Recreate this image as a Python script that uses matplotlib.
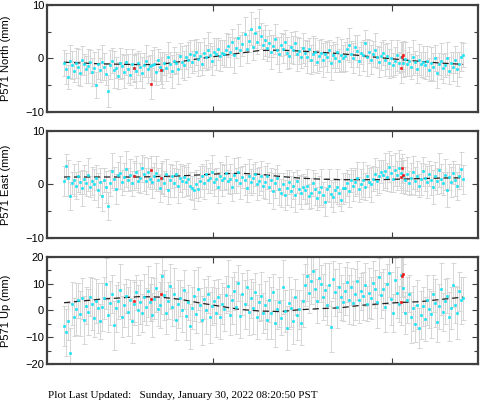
import numpy as np
from matplotlib import pyplot as plt
from matplotlib.ticker import MultipleLocator, NullFormatter

# sample epochs (decimal year)
t_start = 2019.168
t_end = 2021.397
n_pts = 200

north = [
    -0.8, -1.9, -3.5, -0.5, -1.2, -2.4, -0.9, -1.6, -2.8, -0.3, -1.1, -2.0, -1.4, -0.6, -2.6, -1.8, -5.0, -1.0, -2.2, -0.7,
    -1.5, -2.9, -6.0, -1.2, -0.4, -2.1, -1.7, -3.2, -0.9, -1.4, -2.5, -0.6, -1.9, -3.0, -1.1, -1.8, -2.3, -0.8, -1.6, -2.7,
    -1.2, -0.5, -2.0, -1.4, -1.3, -1.0, -2.6, -0.3, -1.5, -2.2, -0.9, -1.7, 0.2, -1.1, -2.4, -0.4, -0.8, -1.9, 0.5, -0.6,
    -1.3, 0.3, -0.2, 0.9, -0.7, 0.6, 1.2, -0.1, 0.4, -1.0, 1.0, 0.2, 1.5, 0.7, -0.4, 1.3, 0.8, 1.8, 0.5, 1.1,
    0.9, 1.6, 2.4, 1.2, 3.1, 0.6, 2.0, 3.8, 1.5, 2.7, 4.5, 1.8, 3.3, 5.6, 2.2, 4.8, 3.0, 5.9, 4.2, 2.6,
    3.4, 1.9, 2.8, 1.2, 2.3, 3.6, 1.5, 0.8, 2.6, 1.8, 3.0, 1.1, 0.4, 2.1, 1.6, 2.9, 0.9, 1.4, 0.2, 1.9,
    1.0, 0.3, 1.7, -0.2, 0.8, 1.3, -0.6, 0.5, 1.1, -0.3, 0.9, 0.2, 1.5, -0.8, 0.6, 0.1, 1.2, -0.4, 0.7, 0.0,
    0.4, 1.8, 2.5, 0.9, 0.1, 2.1, 1.4, -0.5, 1.0, 0.6, 2.8, 0.2, 1.3, -0.2, 0.8, 1.6, 0.3, -0.7, 0.5, 1.1,
    -0.3, 0.4, -0.9, 0.1, -1.2, -0.4, 0.6, -0.8, 0.3, -0.9, -0.1, -1.0, -0.5, -1.5, 0.2, -0.7, -1.9, -0.2, -1.1, -0.6,
    -1.3, -0.4, -2.1, -0.9, -1.6, 0.1, -2.7, -1.0, -0.5, -1.8, -1.2, 0.0, -2.3, -0.8, -1.5, -0.2, -1.9, -1.1, 0.3, 0.6,
]
east = [
    0.6, 3.4, 1.2, -2.1, 0.3, 0.9, -0.2, 1.5, 0.4, -0.6, 1.0, 0.2, 1.8, -0.4, 0.7, 0.0, 1.3, -1.0, 0.5, -2.1,
    0.8, -0.5, -4.0, 0.3, 2.6, 1.1, -0.8, 1.7, 2.2, 0.4, 1.4, 2.9, 0.9, 1.8, 0.2, 1.5, 2.4, 0.7, 1.2, 3.0,
    1.9, 0.6, 2.3, 1.1, 0.4, 1.6, 2.1, 0.9, -0.6, 1.3, 0.2, 2.0, -1.1, 0.8, 1.5, 0.3, 1.9, -0.3, 1.2, 0.6,
    1.4, 0.5, 1.0, -0.2, -0.7, -1.1, 0.1, -0.9, 0.6, 1.5, 0.3, 1.9, 0.8, 1.2, 2.3, 0.4, 1.1, -0.5, 1.6, 0.9,
    1.3, 2.2, 0.6, 1.0, -0.4, 1.7, 0.8, 2.4, 0.2, 1.4, 0.9, -0.7, 1.6, 0.5, 1.2, 2.0, 0.1, 0.7, 1.5, -0.3,
    0.4, 1.6, -0.5, 0.9, -1.2, 0.2, 1.3, -0.8, -1.6, 0.1, -1.9, -0.6, 0.5, -1.3, -0.2, -2.0, 0.6, -0.9, -1.5, -0.4,
    -1.1, -0.3, -2.2, -1.6, 0.3, -0.8, -2.6, -1.4, -0.5, -1.9, -3.2, -0.9, -0.2, -1.7, -2.4, -1.0, -0.4, -1.5, -2.9, -0.7,
    -0.6, 0.3, -1.2, 0.8, -0.2, 0.5, 1.2, -0.9, 0.1, 0.9, -0.4, 1.6, 0.4, 0.0, 1.1, 2.0, 0.7, 1.5, 2.4, 1.8,
    2.6, 1.4, 3.3, 2.1, 1.0, 2.8, 1.7, 3.1, 2.2, 1.5, 0.8, 1.9, 0.3, 1.2, 2.3, 0.6, 1.6, -0.2, 1.0, 2.5,
    1.3, 0.4, 2.0, 0.9, -0.5, 1.6, 0.7, 2.7, 1.1, 0.2, 1.8, -1.0, 1.4, 0.5, 2.2, 0.8, -0.3, 1.5, 2.9, 1.0,
]
up = [
    -5.8, -8.2, -4.0, -16.0, 2.6, -2.5, 0.5, 3.8, -1.2, 4.6, -3.6, 1.8, -0.6, 5.2, 2.4, -2.8, 3.5, 0.9, -4.1, 1.4,
    4.8, 10.0, -1.5, 2.9, 6.3, -5.6, 0.8, 3.6, 7.6, -2.3, 1.9, 5.5, -0.4, 4.1, -3.8, 2.6, 6.8, 0.2, 3.2, -1.0,
    5.0, 1.4, 7.2, 3.0, -1.7, 4.4, 8.5, 0.6, 2.2, 12.8, 5.8, -0.9, 3.6, 9.0, 1.2, 6.1, -3.4, 2.5, 4.8, 0.3,
    7.8, -2.2, 3.1, -5.9, 1.0, 5.6, -1.4, 8.2, 2.0, -3.7, 4.3, 0.0, 6.0, -2.6, 1.7, 3.5, -0.8, 5.1, -2.4, 2.6,
    0.7, 5.9, 9.2, -1.6, 3.8, 7.4, 1.2, 10.4, -2.1, 6.2, 2.3, 8.7, -0.5, 4.5, 1.0, 7.0, -2.4, 3.0, 5.4, -0.9,
    2.1, -3.5, 4.0, -1.0, 6.8, -4.8, 0.6, 3.3, -2.7, 8.8, -0.2, -6.7, 2.8, 1.0, -3.8, 5.1, -1.6, 0.4, -4.5, 3.6,
    9.5, 13.0, 6.4, 11.2, 14.6, 8.0, 3.5, 12.1, 10.0, 5.2, 7.8, 2.0, 9.6, -6.0, 11.6, 6.8, 1.3, 8.6, 5.0, 3.2,
    7.4, 10.8, 4.1, 8.9, 2.8, 6.0, 11.1, 3.9, 7.2, 5.3, 9.7, 2.6, 6.5, 4.6, 10.2, 8.0, 3.1, 12.6, 5.7, 7.9,
    1.2, 9.8, 14.0, 4.4, -0.8, 11.4, 6.7, 2.5, 13.1, 8.4, -1.0, 3.9, 6.3, -2.6, 0.8, -4.9, 2.2, -6.7, -1.8, 1.5,
    -3.2, 4.0, 0.6, -1.4, 6.2, 2.8, -4.2, 1.6, 8.0, -0.6, 3.4, 5.6, -2.3, 0.9, 9.4, 2.2, -1.0, 7.1, 3.8, 4.6,
]

sig_n = [
    2.4, 2.9, 2.2, 3.1, 2.6, 2.0, 2.8, 3.4, 2.3, 2.7, 1.9, 2.5, 3.2, 2.1, 2.6, 3.0, 2.4, 2.8, 2.2, 3.3,
    2.6, 2.1, 3.0, 2.7, 2.3, 3.5, 2.0, 2.5, 2.9, 2.2, 3.1, 2.4, 2.7, 2.0, 2.8, 2.5, 3.3, 2.2, 2.6, 2.9,
    2.3, 3.0, 2.5, 2.1, 2.8, 3.2, 2.4, 2.0, 2.7, 3.4, 2.2, 2.6, 2.9, 2.3, 3.1, 2.5, 2.0, 2.8, 2.4, 3.0,
    2.7, 2.2, 3.3, 2.5, 2.1, 2.9, 2.4, 3.1, 2.6, 2.0, 2.8, 2.3, 3.5, 2.2, 2.7, 2.5, 3.0, 2.1, 2.9, 2.4,
    2.5, 3.1, 2.2, 2.8, 2.4, 3.3, 2.0, 2.7, 2.9, 2.3, 3.2, 2.6, 2.1, 3.0, 2.5, 2.8, 2.2, 3.4, 2.4, 2.7,
    2.9, 2.3, 2.6, 3.1, 2.0, 2.8, 2.5, 3.3, 2.2, 2.7, 2.4, 3.0, 2.1, 2.9, 2.6, 2.3, 3.2, 2.5, 2.0, 2.8,
    2.4, 3.0, 2.2, 2.7, 3.4, 2.5, 2.1, 2.9, 2.6, 3.1, 2.3, 2.8, 2.0, 3.3, 2.4, 2.6, 2.9, 2.2, 3.0, 2.5,
    2.7, 2.1, 3.2, 2.4, 2.8, 2.3, 3.0, 2.6, 2.0, 2.9, 2.5, 3.4, 2.2, 2.7, 2.4, 3.1, 2.1, 2.8, 2.6, 2.3,
    3.0, 2.4, 2.7, 3.3, 2.2, 2.6, 2.9, 2.0, 2.8, 2.5, 3.1, 2.3, 2.7, 2.4, 3.2, 2.1, 2.6, 2.9, 2.3, 3.0,
    2.5, 2.8, 2.2, 3.1, 2.6, 2.4, 2.9, 2.1, 3.3, 2.7, 2.3, 3.0, 2.5, 2.0, 2.8, 2.6, 3.2, 2.4, 2.7, 2.2,
]
sig_e = [
    2.8, 2.3, 3.3, 2.6, 2.1, 3.0, 2.5, 2.9, 2.2, 3.4, 2.7, 2.4, 3.1, 2.0, 2.6, 2.9, 2.3, 3.2, 2.5, 2.8,
    2.2, 3.0, 2.6, 2.4, 3.3, 2.1, 2.8, 2.5, 3.1, 2.3, 2.7, 3.4, 2.2, 2.9, 2.4, 2.6, 3.0, 2.1, 2.8, 2.5,
    3.2, 2.4, 2.7, 2.0, 2.9, 2.5, 3.3, 2.2, 2.6, 3.0, 2.3, 2.8, 2.5, 3.1, 2.1, 2.7, 2.4, 3.2, 2.6, 2.9,
    2.3, 2.7, 3.0, 2.5, 2.2, 3.4, 2.6, 2.1, 2.9, 2.4, 3.1, 2.7, 2.3, 2.8, 3.3, 2.5, 2.0, 2.9, 2.6, 3.0,
    2.4, 3.1, 2.2, 2.8, 2.6, 3.3, 2.3, 2.7, 3.0, 2.1, 2.9, 2.5, 3.2, 2.4, 2.7, 2.2, 3.0, 2.6, 2.8, 2.3,
    3.1, 2.5, 2.9, 2.2, 3.4, 2.7, 2.4, 3.0, 2.6, 2.1, 2.8, 3.3, 2.3, 2.9, 2.5, 3.1, 2.2, 2.7, 3.0, 2.4,
    2.6, 3.2, 2.3, 2.8, 2.5, 3.0, 2.1, 2.9, 3.4, 2.4, 2.7, 2.2, 3.1, 2.6, 2.8, 2.3, 3.3, 2.5, 2.0, 2.9,
    2.7, 2.4, 3.1, 2.2, 2.9, 2.6, 3.0, 2.3, 2.8, 3.3, 2.5, 2.1, 2.7, 3.2, 2.4, 2.9, 2.6, 3.0, 2.2, 2.8,
    3.3, 2.6, 2.9, 3.5, 2.4, 3.1, 2.7, 3.4, 2.8, 3.0, 2.5, 3.2, 2.3, 2.9, 3.1, 2.6, 2.8, 2.2, 3.0, 2.7,
    2.5, 3.0, 2.3, 2.8, 3.2, 2.6, 2.4, 3.1, 2.7, 2.2, 2.9, 3.3, 2.5, 2.8, 2.1, 3.0, 2.6, 2.4, 3.2, 2.7,
]
sig_u = [
    7.5, 8.8, 6.9, 9.4, 8.1, 7.2, 9.8, 6.6, 8.4, 7.7, 9.1, 6.8, 8.6, 7.4, 9.6, 7.0, 8.2, 9.3, 6.7, 8.9,
    7.8, 9.5, 6.5, 8.3, 7.1, 9.0, 8.7, 6.9, 9.7, 7.6, 8.0, 6.4, 9.2, 7.3, 8.5, 7.9, 6.6, 9.4, 8.1, 7.2,
    8.8, 7.0, 9.6, 6.8, 8.2, 7.7, 9.1, 6.5, 8.6, 7.4, 9.3, 8.0, 6.9, 8.4, 7.1, 9.8, 7.6, 8.9, 6.7, 8.3,
    7.3, 9.0, 6.6, 8.5, 7.8, 9.4, 7.0, 8.1, 6.4, 9.2, 7.5, 8.7, 6.8, 9.6, 7.2, 8.0, 9.1, 6.5, 8.4, 7.7,
    8.2, 6.9, 9.5, 7.4, 8.8, 7.1, 9.9, 6.7, 8.3, 7.9, 9.2, 6.6, 8.6, 7.3, 9.7, 7.0, 8.1, 6.8, 9.0, 7.6,
    9.1, 7.3, 8.4, 9.8, 6.9, 8.7, 7.5, 9.4, 6.6, 10.0, 7.8, 8.2, 9.6, 7.0, 8.9, 6.7, 9.3, 7.4, 8.5, 9.9,
    8.0, 9.5, 7.2, 8.8, 9.7, 7.6, 8.3, 9.1, 7.0, 8.6, 9.9, 7.4, 8.1, 9.4, 6.9, 8.7, 7.7, 9.2, 8.4, 7.1,
    8.9, 7.5, 9.3, 6.8, 8.2, 9.6, 7.3, 8.5, 7.0, 9.0, 8.0, 6.6, 9.4, 7.8, 8.3, 7.2, 9.7, 6.9, 8.6, 7.6,
    9.2, 7.4, 8.8, 9.9, 7.1, 8.4, 9.5, 6.7, 8.0, 9.1, 7.8, 8.6, 7.0, 9.6, 8.3, 6.8, 9.3, 7.5, 8.9, 7.2,
    8.1, 9.4, 7.3, 8.7, 6.9, 9.0, 7.7, 8.4, 9.8, 7.1, 8.5, 6.6, 9.2, 7.9, 8.2, 7.0, 9.6, 7.4, 8.8, 8.0,
]

# flagged (red) observations
red_t = [2019.559, 2019.654, 2019.710, 2021.050, 2021.056, 2021.061]
red_n = [-1.8, -4.7, -2.2, -1.75, 0.3, 0.6]
red_e = [1.6, 2.75, 1.25, 1.4, 3.0, 1.8]
red_u = [3.5, 4.2, 6.1, 3.0, 13.0, 13.8]
red_sn = [2.6, 2.9, 2.5, 2.8, 2.7, 2.6]
red_se = [2.7, 2.6, 2.8, 2.9, 2.7, 2.8]
red_su = [7.8, 8.2, 7.5, 8.6, 8.0, 8.4]

# model curve knots
model_t = [2019.168, 2019.369, 2019.593, 2019.704, 2019.816, 2019.928, 2020.039, 2020.151,
           2020.263, 2020.375, 2020.486, 2020.598, 2020.710, 2020.821, 2020.933, 2021.045,
           2021.157, 2021.268, 2021.397]
model_n = [-0.7, -1.0, -1.15, -1.1, -0.6, 0.0, 0.5, 1.0, 1.5, 1.55, 1.4, 1.15, 0.9, 0.55,
           0.15, -0.2, -0.55, -0.85, -1.1]
model_e = [1.4, 1.4, 1.4, 1.5, 1.6, 1.8, 2.0, 2.1, 1.9, 1.5, 1.2, 1.0, 0.9, 0.9, 0.9, 1.0,
           1.1, 1.2, 1.25]
model_u = [2.9, 4.2, 5.2, 5.0, 4.2, 2.8, 1.6, 0.4, -0.2, -0.4, 0.3, 0.7, 1.0, 1.9, 2.5, 3.0,
           3.3, 4.1, 5.0]

labels = ["P571 North (mm)", "P571 East (mm)", "P571 Up (mm)"]
ylims = [(-10, 10), (-10, 10), (-20, 20)]
majors = [10, 10, 10]
minors = [5, 5, 5]

t = np.linspace(t_start, t_end, n_pts)

fig = plt.figure(figsize=(4.81, 4.04), dpi=100)
bottoms = [0.7228, 0.4109, 0.0990]
series = [(north, sig_n, red_n, red_sn, model_n),
          (east, sig_e, red_e, red_se, model_e),
          (up, sig_u, red_u, red_su, model_u)]

for k in range(3):
    vals, sig, rv, rs, mod = series[k]
    ax = fig.add_axes([0.0977, bottoms[k], 0.896, 0.2649])
    ax.errorbar(t, vals, yerr=sig, fmt='none', ecolor='#d6d6d6', elinewidth=0.7,
                capsize=1.8, capthick=0.7, zorder=1)
    ax.errorbar(red_t, rv, yerr=rs, fmt='none', ecolor='#d6d6d6', elinewidth=0.7,
                capsize=1.8, capthick=0.7, zorder=1)
    ax.plot(model_t, mod, color='#202020', lw=0.9, dashes=(5, 3), zorder=2)
    ax.plot(t, vals, 's', color='#10e2f4', ms=1.7, mew=0.4, zorder=3)
    ax.plot(red_t, rv, 's', color='#f01010', ms=1.7, mew=0.4, zorder=4)

    ax.set_xlim(2019.073, 2021.480)
    ax.set_ylim(*ylims[k])
    ax.set_xticks([2020, 2021])
    ax.xaxis.set_major_formatter(NullFormatter())
    ax.yaxis.set_major_locator(MultipleLocator(majors[k]))
    ax.yaxis.set_minor_locator(MultipleLocator(minors[k]))
    ax.tick_params(which='both', direction='in', top=True, right=True,
                   labelsize=8, pad=2, color='#404040')
    ax.tick_params(which='major', length=4, width=0.8)
    ax.tick_params(which='minor', length=3, width=0.8)
    for s in ax.spines.values():
        s.set_linewidth(1.6)
        s.set_color('#404040')
    for lab in ax.get_yticklabels():
        lab.set_family('Liberation Sans')
    ax.set_ylabel(labels[k], fontsize=8, family='Liberation Sans')
    ax.yaxis.set_label_coords(-0.083, 0.5)

fig.text(48 / 481, 1 - 398 / 404, "Plot Last Updated:   Sunday, January 30, 2022 08:20:50 PST",
         family='Liberation Serif', fontsize=8, va='baseline', ha='left')

fig.savefig("out.png", dpi=100)
